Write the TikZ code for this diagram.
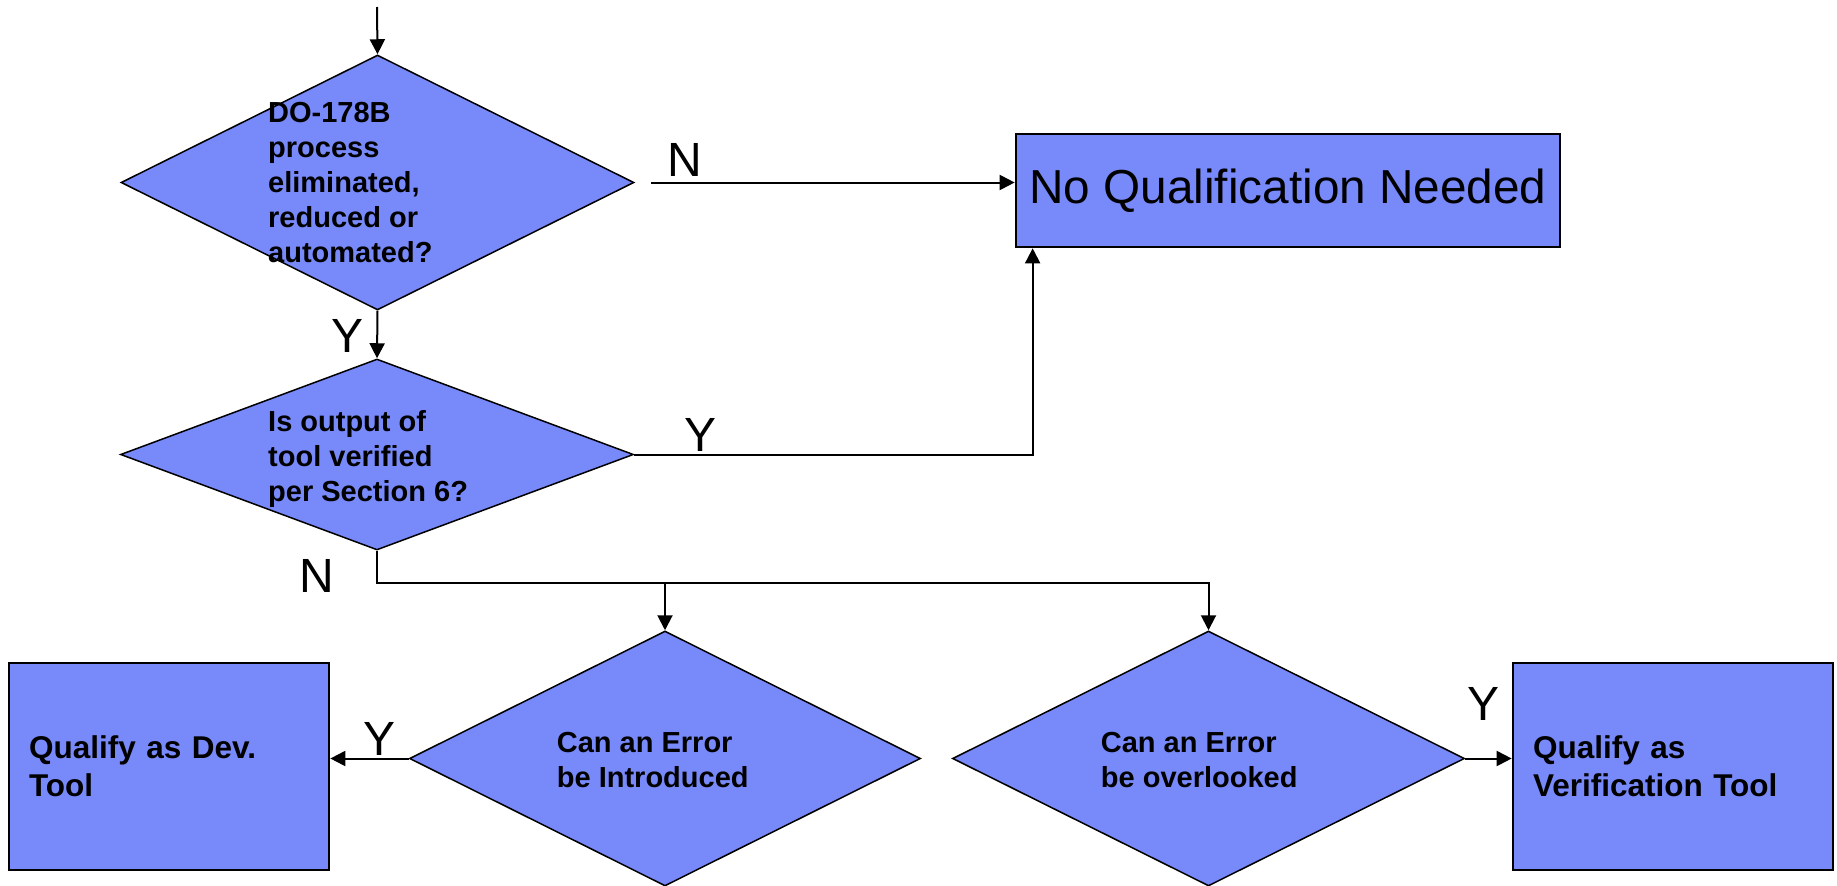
\documentclass[tikz,border=0pt]{standalone}
\usepackage{fontspec}
\setmainfont{Liberation Sans}
\usepackage{tikz}
\usetikzlibrary{shapes,arrows.meta}
\definecolor{qblue}{RGB}{120,137,250}

\begin{document}
\begin{tikzpicture}[x=1pt,y=-1pt]
	\tikzset{decision/.style={diamond,draw,fill=qblue,line width=1.5pt,inner sep=0pt}}
	\tikzset{outcome/.style={rectangle,draw,fill=qblue,line width=2.7pt}}
	\tikzset{question/.style={align=left,anchor=west,inner sep=0pt,font=\bfseries\fontsize{29}{35}\selectfont}}
	\tikzset{verdict/.style={outcome,minimum width=320pt,minimum height=207pt,text width=280pt,inner xsep=20pt,align=left,font=\bfseries\fontsize{31.5}{38}\selectfont}}
	\tikzset{answer/.style={inner sep=0pt,font=\fontsize{48}{56}\selectfont}}
	\tikzset{flow/.style={line width=2pt,-{Triangle[length=15pt,width=15pt]}}}
	\useasboundingbox (0,0) rectangle (1837,886);
	\node[decision,minimum width=513pt,minimum height=255pt] (d1) at (377.5,182.5) {};
	\node[decision,minimum width=513pt,minimum height=191pt] (d2) at (377,454.5) {};
	\node[decision,minimum width=511pt,minimum height=255pt] (d3) at (665,758.5) {};
	\node[decision,minimum width=512pt,minimum height=255pt] (d4) at (1208.5,758.5) {};
	\node[question] (q1) at (268,182.8) {DO-178B\\process\\eliminated,\\reduced or\\automated?};
	\node[question] (q2) at (268,459.2) {Is output of\\tool verified\\per Section 6?};
	\node[question] (q3) at (556.7,759.7) {Can an Error\\be Introduced};
	\node[question] (q4) at (1100.7,759.7) {Can an Error\\be overlooked};
	\node[outcome,minimum width=544pt,minimum height=113pt,inner xsep=8pt,font=\fontsize{47.7}{56}\selectfont] (nqn) at (1288,190.5) {No Qualification Needed};
	\node[verdict] (dev) at (169,766.5) {Qualify as Dev.\\Tool};
	\node[verdict] (ver) at (1673,766.5) {Qualify as\\Verification Tool};
	\coordinate (entry) at (377,7);
	\coordinate (fork) at (377,583);
	\draw[flow] (entry) -- (d1.north);
	\draw[flow] ([xshift=16pt]d1.east) -- (d1.east -| nqn.west);
	\draw[flow] (d1.south) -- (d2.north);
	\draw[flow] (d2.east) -| ([xshift=18pt]nqn.south west);
	\draw[flow] (d2.south) -- (fork) -| (d4.north);
	\draw[flow] (fork -| d3.north) -- (d3.north);
	\draw[flow] (d3.west) -- (d3.west -| dev.east);
	\draw[flow] (d4.east) -- (d4.east -| ver.west);
	\node[answer] (n1) at (684.5,160) {N};
	\node[answer] (y1) at (348,335.5) {Y};
	\node[answer] (y2) at (700.5,435) {Y};
	\node[answer] (n2) at (316.5,575.5) {N};
	\node[answer] (y3) at (380,738.5) {Y};
	\node[answer] (y4) at (1483,703.5) {Y};
\end{tikzpicture}
\end{document}
